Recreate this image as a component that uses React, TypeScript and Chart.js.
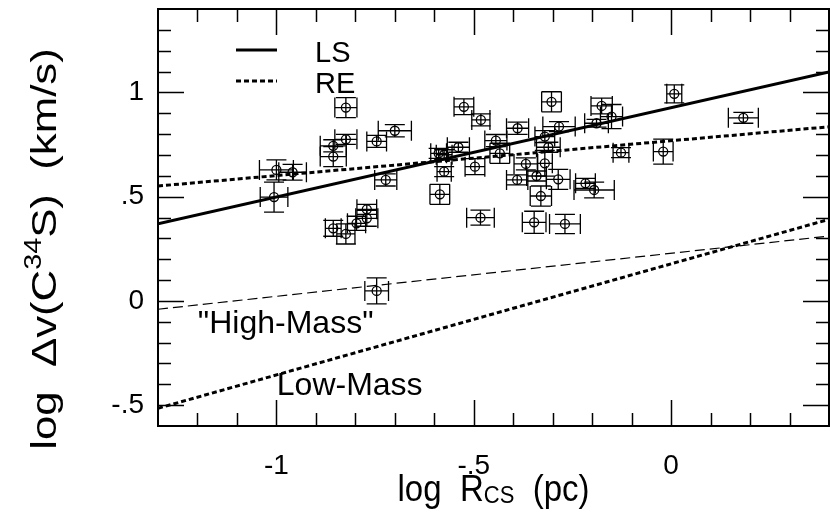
import React, { useEffect, useRef } from 'react';
import { Chart, registerables } from 'chart.js';

Chart.register(...registerables);

// ---- Data ----
const xVals = [
  -1.006, -1.0, -0.959, -0.824, -0.824, -0.856, -0.856, -0.746, -0.7, -0.723,
  -0.586, -0.525, -0.482, -0.589, -0.575, -0.539, -0.575, -0.497, -0.483, -0.856,
  -0.824, -0.797, -0.771, -0.771, -0.746, -0.303, -0.176, -0.151, -0.189, 0.008,
  0.183, -0.389, -0.284, -0.444, -0.434, -0.32, -0.311, -0.32, -0.368, -0.341,
  -0.39, -0.286, -0.217, -0.195, -0.33, -0.127, -0.02, -0.347, -0.269,
];
const yVals = [
  0.498, 0.628, 0.617, 0.927, 0.775, 0.744, 0.692, 0.765, 0.816, 0.58,
  0.511, 0.931, 0.868, 0.708, 0.701, 0.737, 0.62, 0.644, 0.399, 0.348,
  0.321, 0.372, 0.396, 0.439, 0.048, 0.955, 0.935, 0.884, 0.852, 0.993,
  0.878, 0.828, 0.836, 0.769, 0.708, 0.788, 0.737, 0.66, 0.657, 0.599,
  0.58, 0.583, 0.564, 0.532, 0.503, 0.711, 0.716, 0.377, 0.369,
];
const xErr = [
  0.035, 0.043, 0.035, 0.028, 0.028, 0.033, 0.033, 0.025, 0.042, 0.028,
  0.025, 0.025, 0.023, 0.02, 0.02, 0.028, 0.018, 0.025, 0.035, 0.02,
  0.023, 0.023, 0.028, 0.025, 0.03, 0.025, 0.027, 0.028, 0.03, 0.019,
  0.038, 0.028, 0.041, 0.028, 0.025, 0.025, 0.03, 0.019, 0.03, 0.025,
  0.027, 0.03, 0.025, 0.051, 0.027, 0.02, 0.025, 0.03, 0.039,
];
const yErr = [
  0.072, 0.048, 0.038, 0.048, 0.024, 0.029, 0.048, 0.029, 0.029, 0.029,
  0.048, 0.038, 0.029, 0.024, 0.024, 0.024, 0.024, 0.038, 0.036, 0.038,
  0.048, 0.034, 0.038, 0.024, 0.062, 0.048, 0.038, 0.058, 0.019, 0.043,
  0.026, 0.029, 0.024, 0.029, 0.048, 0.029, 0.024, 0.062, 0.029, 0.024,
  0.024, 0.048, 0.024, 0.038, 0.048, 0.024, 0.06, 0.053, 0.046,
];

const lineX = [-1.3, 0.4];
const lsY = [0.37, 1.098];
const reY = [0.551, 0.835];
const highMassY = [-0.04, 0.311];
const lowMassY = [-0.515, 0.391];

const xTicks = [-1, -0.5, 0];
const xTickLabels = ['-1', '-.5', '0'];
const yTicks = [-0.5, 0, 0.5, 1];
const yTickLabels = ['-.5', '0', '.5', '1'];

const FONT = '"Liberation Sans", Arial, Helvetica, sans-serif';

const labelFor = (vals: number[], labels: string[], v: number) => {
  const i = vals.findIndex((t) => Math.abs(t - v) < 1e-9);
  return i >= 0 ? labels[i] : '';
};

type Part = [string, number, number];

const decoPlugin = {
  id: 'deco',
  beforeDatasetsDraw(chart: any) {
    const { ctx, scales } = chart;
    const xs = scales.x, ys = scales.y;
    const cap = 10;
    ctx.save();
    ctx.strokeStyle = '#000';
    ctx.lineWidth = 1.3;
    for (let i = 0; i < xVals.length; i++) {
      const cx = xs.getPixelForValue(xVals[i]);
      const cy = ys.getPixelForValue(yVals[i]);
      const x1 = xs.getPixelForValue(xVals[i] - xErr[i]);
      const x2 = xs.getPixelForValue(xVals[i] + xErr[i]);
      const y1 = ys.getPixelForValue(yVals[i] + yErr[i]);
      const y2 = ys.getPixelForValue(yVals[i] - yErr[i]);
      ctx.beginPath();
      ctx.moveTo(x1, cy); ctx.lineTo(x2, cy);
      ctx.moveTo(x1, cy - cap); ctx.lineTo(x1, cy + cap);
      ctx.moveTo(x2, cy - cap); ctx.lineTo(x2, cy + cap);
      ctx.moveTo(cx, y1); ctx.lineTo(cx, y2);
      ctx.moveTo(cx - cap, y1); ctx.lineTo(cx + cap, y1);
      ctx.moveTo(cx - cap, y2); ctx.lineTo(cx + cap, y2);
      ctx.stroke();
    }
    ctx.restore();
  },
  afterDraw(chart: any) {
    const { ctx, scales, chartArea } = chart;
    const xs = scales.x, ys = scales.y;
    const { left, right, top, bottom } = chartArea;
    ctx.save();
    ctx.strokeStyle = '#000';
    // ticks
    ctx.lineWidth = 1.5;
    ctx.beginPath();
    for (let k = -13; k <= 4; k++) {
      const v = k / 10;
      const major = Math.abs(v * 2 - Math.round(v * 2)) < 1e-9;
      const len = major ? 26 : 13;
      const px = Math.round(xs.getPixelForValue(v)) + 0.5;
      if (px <= left + 1 || px >= right - 1) continue;
      ctx.moveTo(px, bottom); ctx.lineTo(px, bottom - len);
      ctx.moveTo(px, top); ctx.lineTo(px, top + len);
    }
    for (let k = -6; k <= 14; k++) {
      const v = k / 10;
      const major = Math.abs(v * 2 - Math.round(v * 2)) < 1e-9;
      const len = major ? 26 : 13;
      const py = Math.round(ys.getPixelForValue(v)) + 0.5;
      if (py <= top + 1 || py >= bottom - 1) continue;
      ctx.moveTo(left, py); ctx.lineTo(left + len, py);
      ctx.moveTo(right, py); ctx.lineTo(right - len, py);
    }
    ctx.stroke();
    // frame
    ctx.lineWidth = 2;
    ctx.strokeRect(left, top, right - left, bottom - top);

    // legend
    ctx.lineWidth = 3;
    ctx.beginPath();
    ctx.moveTo(236, 50); ctx.lineTo(277, 50);
    ctx.stroke();
    ctx.setLineDash([5, 3]);
    ctx.beginPath();
    ctx.moveTo(236, 81); ctx.lineTo(277, 81);
    ctx.stroke();
    ctx.setLineDash([]);
    ctx.fillStyle = '#000';
    ctx.textAlign = 'left';
    ctx.textBaseline = 'alphabetic';

    const stretchText = (t: string, size: number, x: number, y: number, k: number) => {
      ctx.save();
      ctx.font = `${size}px ${FONT}`;
      ctx.translate(x, y);
      ctx.scale(1, k);
      ctx.fillText(t, 0, 0);
      ctx.restore();
    };

    stretchText('LS', 29, 315, 62, 1.0);
    stretchText('RE', 29, 315, 93, 1.0);

    // annotations
    stretchText('"High-Mass"', 32, xs.getPixelForValue(-1.199), ys.getPixelForValue(-0.154), 1.0);
    stretchText('Low-Mass', 32, xs.getPixelForValue(-0.999), ys.getPixelForValue(-0.451), 1.0);

    const widthOf = (p: Part[]) =>
      p.reduce((acc, [t, s]) => { ctx.font = `${s}px ${FONT}`; return acc + ctx.measureText(t).width; }, 0);

    // x title
    const parts: Part[] = [
      ['log  R', 33, 0],
      ['CS', 22, 2],
      ['  (pc)', 33, 0],
    ];
    let w = widthOf(parts);
    let x = (left + right) / 2 - w / 2;
    ctx.save();
    ctx.translate(0, 501);
    ctx.scale(1, 1.1);
    for (const [t, s, dy] of parts) {
      ctx.font = `${s}px ${FONT}`;
      ctx.fillText(t, x, dy);
      x += ctx.measureText(t).width;
    }
    ctx.restore();

    // y title (rotated)
    const yparts: Part[] = [
      ['log  \u0394v(C', 35, 0],
      ['34', 23, -15],
      ['S)  (km/s)', 35, 0],
    ];
    w = widthOf(yparts);
    ctx.save();
    ctx.translate(56, 249);
    ctx.scale(1, 1.25);
    ctx.rotate(-Math.PI / 2);
    x = -w / 2;
    for (const [t, s, dy] of yparts) {
      ctx.font = `${s}px ${FONT}`;
      ctx.fillText(t, x, dy);
      x += ctx.measureText(t).width;
    }
    ctx.restore();
    ctx.restore();
  },
};

export default function App() {
  const ref = useRef<HTMLCanvasElement>(null);
  useEffect(() => {
    if (!ref.current) return;
    const pts = xVals.map((x, i) => ({ x, y: yVals[i] }));
    const mk = (ys: number[]) => lineX.map((x, i) => ({ x, y: ys[i] }));
    const zeroPad = (s: any) => { s.paddingTop = 0; s.paddingBottom = 0; s.paddingLeft = 0; s.paddingRight = 0; };
    const chart = new Chart(ref.current, {
      type: 'scatter',
      data: {
        datasets: [
          {
            label: 'data',
            data: pts,
            pointStyle: 'circle',
            pointRadius: 4.5,
            borderColor: '#000',
            borderWidth: 1.3,
            backgroundColor: 'rgba(0,0,0,0)',
          },
          {
            label: 'LS', type: 'line', data: mk(lsY), borderColor: '#000', borderWidth: 3,
            pointRadius: 0, fill: false,
          },
          {
            label: 'RE', type: 'line', data: mk(reY), borderColor: '#000', borderWidth: 3,
            borderDash: [5, 3], pointRadius: 0, fill: false,
          },
          {
            label: 'High-Mass', type: 'line', data: mk(highMassY), borderColor: '#000', borderWidth: 1.2,
            borderDash: [10, 5], pointRadius: 0, fill: false,
          },
          {
            label: 'Low-Mass', type: 'line', data: mk(lowMassY), borderColor: '#000', borderWidth: 3,
            borderDash: [5, 3], pointRadius: 0, fill: false,
          },
        ],
      } as any,
      options: {
        animation: false,
        responsive: false,
        devicePixelRatio: 1,
        layout: { autoPadding: false, padding: { top: 9, right: 1, left: 0, bottom: 0 } },
        plugins: { legend: { display: false }, tooltip: { enabled: false } },
        scales: {
          x: {
            type: 'linear', min: -1.3, max: 0.4,
            grid: { display: false, drawTicks: false }, border: { display: false },
            afterBuildTicks: (s: any) => { s.ticks = xTicks.map((v) => ({ value: v })); },
            afterFit: (s: any) => { s.height = 100; zeroPad(s); },
            ticks: {
              color: '#000', padding: 23, maxRotation: 0, autoSkip: false,
              font: { family: FONT, size: 28 },
              callback: (v: any) => labelFor(xTicks, xTickLabels, Number(v)),
            },
          },
          y: {
            type: 'linear', min: -0.6, max: 1.4,
            grid: { display: false, drawTicks: false }, border: { display: false },
            afterBuildTicks: (s: any) => { s.ticks = yTicks.map((v) => ({ value: v })); },
            afterFit: (s: any) => { s.width = 158; zeroPad(s); },
            ticks: {
              color: '#000', padding: 14, autoSkip: false,
              font: { family: FONT, size: 28 },
              callback: (v: any) => labelFor(yTicks, yTickLabels, Number(v)),
            },
          },
        },
      } as any,
      plugins: [decoPlugin],
    });
    return () => chart.destroy();
  }, []);
  return (
    <div style={{ position: 'absolute', left: 0, top: 0, width: 830, height: 526, background: '#fff' }}>
      <canvas ref={ref} width={830} height={526} style={{ display: 'block' }} />
    </div>
  );
}
